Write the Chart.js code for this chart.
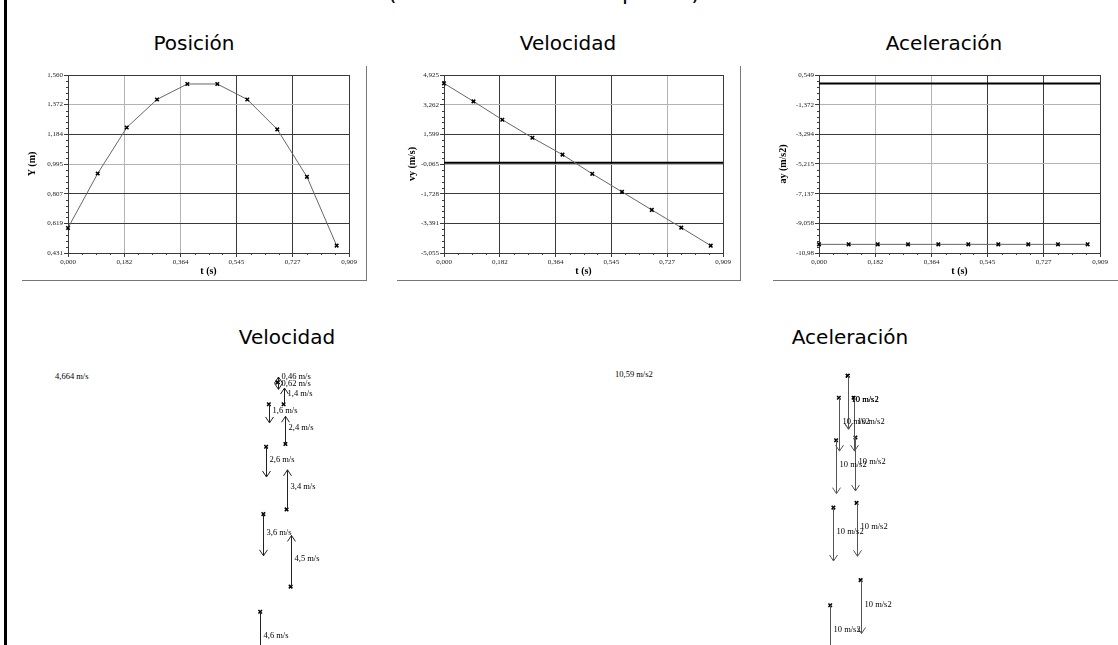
<!DOCTYPE html>
<html lang="es">
<head>
<meta charset="utf-8">
<title>Tiro vertical</title>
<script src="https://cdn.jsdelivr.net/npm/chart.js@4.4.1/dist/chart.umd.min.js"></script>
<style>
  html, body { margin: 0; padding: 0; background: #fff; width: 1118px; height: 645px; overflow: hidden; }
  body { position: relative; font-family: "DejaVu Sans", Verdana, sans-serif; color: #000; }
  .bar { position: absolute; left: 4px; top: 0; width: 3px; height: 645px; background: #000; }
  .head { position: absolute; top: -18px; font-size: 22px; line-height: 22px; white-space: nowrap; }
  .title { position: absolute; width: 300px; text-align: center; font-size: 20px; line-height: 20px; }
  .frame { position: absolute; border-right: 1px solid #777; border-bottom: 1px solid #777; }
  canvas { position: absolute; }
  .note { position: absolute; font: 8.5px "Liberation Serif", serif; line-height: 10px; white-space: nowrap; }
</style>
</head>
<body>
<div class="bar"></div>
<div class="head" style="right:730px;">Tiro vertical&nbsp;</div>
<div class="head" style="left:388px;">(lanzamiento de una pelota)</div>

<div class="title" style="left:44px; top:33px;">Posición</div>
<div class="title" style="left:418px; top:33px;">Velocidad</div>
<div class="title" style="left:794px; top:33px;">Aceleración</div>

<div class="frame" style="left:22px; top:66px; width:344px; height:214px;"></div>
<div class="frame" style="left:397px; top:66px; width:343px; height:214px;"></div>
<div class="frame" style="left:773px; top:66px; width:346px; height:214px;"></div>

<canvas id="posChart" width="345" height="220" style="left:22px; top:60px;"></canvas>
<canvas id="velChart" width="344" height="220" style="left:397px; top:60px;"></canvas>
<canvas id="acelChart" width="345" height="220" style="left:773px; top:60px;"></canvas>

<div class="title" style="left:137px; top:327px;">Velocidad</div>
<div class="title" style="left:700px; top:327px;">Aceleración</div>
<div class="note" style="left:55px; top:371px;">4,664 m/s</div>
<div class="note" style="left:615px; top:369px;">10,59 m/s2</div>

<canvas id="velVectores" width="540" height="320" style="left:0px; top:345px;"></canvas>
<canvas id="acelVectores" width="540" height="320" style="left:570px; top:338px;"></canvas>

<script>
// valores
const tiempo = [0, 0.096, 0.190, 0.288, 0.386, 0.483, 0.580, 0.677, 0.773, 0.869];
const posicionY = [0.590, 0.935, 1.227, 1.405, 1.503, 1.503, 1.405, 1.215, 0.914, 0.478];
const velocidadY = [4.457, 3.446, 2.416, 1.405, 0.46, -0.617, -1.628, -2.639, -3.632, -4.643];
const aceleracionY = [-10.42, -10.42, -10.42, -10.42, -10.42, -10.42, -10.42, -10.42, -10.42, -10.42];
// posición horizontal de la pelota en el diagrama de vectores (m)
const posicionX = [0.134, 0.116, 0.111, 0.103, 0.077, 0.077, 0.038, 0.026, 0.014, 0.000];

const tTicks = [0, 0.182, 0.364, 0.545, 0.727, 0.909];
const tLabels = ['0,000', '0,182', '0,364', '0,545', '0,727', '0,909'];
const posTicks = [0.431, 0.619, 0.807, 0.995, 1.184, 1.372, 1.560];
const posLabels = ['0,431', '0,619', '0,807', '0,995', '1,184', '1,372', '1,560'];
const velTicks = [-5.055, -3.391, -1.728, -0.065, 1.599, 3.262, 4.925];
const velLabels = ['-5,055', '-3,391', '-1,728', '-0,065', '1,599', '3,262', '4,925'];
const acelTicks = [-10.98, -9.058, -7.137, -5.215, -3.294, -1.372, 0.549];
const acelLabels = ['-10,98', '-9,058', '-7,137', '-5,215', '-3,294', '-1,372', '0,549'];

const DARK = '#3a3a3a';
const LIGHT = '#b4b4b4';

const minorTicks = {
    id: 'minorTicks',
    afterDraw(chart, args, opts) {
        const ctx = chart.ctx;
        const xs = chart.scales.x;
        const ys = chart.scales.y;
        ctx.save();
        ctx.strokeStyle = DARK;
        ctx.lineWidth = 1;
        ctx.beginPath();
        for (let i = 0; i < ys.ticks.length - 1; i++) {
            const a = ys.ticks[i].value;
            const b = ys.ticks[i + 1].value;
            for (let k = 1; k < opts.y; k++) {
                const py = Math.round(ys.getPixelForValue(a + (b - a) * k / opts.y)) + 0.5;
                ctx.moveTo(chart.chartArea.left - 2, py);
                ctx.lineTo(chart.chartArea.left, py);
            }
        }
        for (let i = 0; i < xs.ticks.length - 1; i++) {
            const a = xs.ticks[i].value;
            const b = xs.ticks[i + 1].value;
            for (let k = 1; k < opts.x; k++) {
                const px = Math.round(xs.getPixelForValue(a + (b - a) * k / opts.x)) + 0.5;
                ctx.moveTo(px, chart.chartArea.bottom);
                ctx.lineTo(px, chart.chartArea.bottom + 2);
            }
        }
        ctx.stroke();
        ctx.restore();
    }
};

const zeroLine = {
    id: 'zeroLine',
    beforeDatasetsDraw(chart, args, opts) {
        if (!opts.show) {
            return;
        }
        const ctx = chart.ctx;
        const py = chart.scales.y.getPixelForValue(0);
        ctx.save();
        ctx.strokeStyle = '#000';
        ctx.lineWidth = 2;
        ctx.beginPath();
        ctx.moveTo(chart.chartArea.left, py);
        ctx.lineTo(chart.chartArea.right, py);
        ctx.stroke();
        ctx.restore();
    }
};

function timeChart(id, values, yTicks, yLabels, yTitle, lightX, titlePad, showZero) {
    const canvas = document.getElementById(id);
    return new Chart(canvas.getContext('2d'), {
        type: 'scatter',
        data: {
            datasets: [{
                data: tiempo.map((t, i) => ({ x: t, y: values[i] })),
                showLine: true,
                borderColor: '#666',
                borderWidth: 1,
                pointStyle: 'crossRot',
                pointRadius: 2.5,
                pointBorderWidth: 1.5,
                pointBorderColor: '#000',
                clip: false,
            }],
        },
        options: {
            responsive: false,
            animation: false,
            devicePixelRatio: 1,
            layout: { padding: { top: 15, right: 18, left: 0, bottom: 0 } },
            plugins: {
                legend: { display: false },
                tooltip: { enabled: false },
                minorTicks: { x: 4, y: 5 },
                zeroLine: { show: showZero },
            },
            scales: {
                x: {
                    type: 'linear',
                    min: tTicks[0],
                    max: tTicks[tTicks.length - 1],
                    afterBuildTicks: (scale) => { scale.ticks = tTicks.map((v) => ({ value: v })); },
                    afterFit: (scale) => { scale.height = 27; },
                    ticks: {
                        callback: (value, index) => tLabels[index],
                        font: { family: 'Liberation Serif', size: 7 },
                        color: '#222',
                        padding: 1,
                        maxRotation: 0,
                    },
                    grid: {
                        color: (ctx) => (lightX.includes(ctx.index) ? LIGHT : DARK),
                        tickColor: DARK,
                        tickLength: 4,
                    },
                    border: { color: DARK },
                    title: {
                        display: true,
                        text: 't (s)',
                        font: { family: 'Liberation Serif', size: 10, weight: 'bold' },
                        color: '#000',
                        padding: { top: 0, bottom: 3 },
                    },
                },
                y: {
                    type: 'linear',
                    min: yTicks[0],
                    max: yTicks[yTicks.length - 1],
                    afterBuildTicks: (scale) => { scale.ticks = yTicks.map((v) => ({ value: v })); },
                    afterFit: (scale) => { scale.width = canvas.width === 344 ? 47 : 46; },
                    ticks: {
                        callback: (value, index) => yLabels[index],
                        font: { family: 'Liberation Serif', size: 7 },
                        color: '#222',
                        padding: 1,
                    },
                    grid: {
                        color: (ctx) => (ctx.index === 3 || ctx.index === 5 ? LIGHT : DARK),
                        tickColor: DARK,
                        tickLength: 4,
                    },
                    border: { color: DARK },
                    title: {
                        display: true,
                        text: yTitle,
                        font: { family: 'Liberation Serif', size: 10, weight: 'bold' },
                        color: '#000',
                        padding: { top: titlePad, bottom: 0 },
                    },
                },
            },
        },
        plugins: [minorTicks, zeroLine],
    });
}

const arrows = {
    id: 'arrows',
    afterDatasetsDraw(chart, args, opts) {
        const ctx = chart.ctx;
        const xs = chart.scales.x;
        const ys = chart.scales.y;
        ctx.save();
        ctx.strokeStyle = opts.color;
        ctx.fillStyle = '#000';
        ctx.lineWidth = 1;
        ctx.font = '8.5px "Liberation Serif", serif';
        ctx.textBaseline = 'middle';
        opts.values.forEach((v, i) => {
            const px = Math.round(xs.getPixelForValue(posicionX[i])) + 0.5;
            const y0 = ys.getPixelForValue(posicionY[i]);
            const y1 = ys.getPixelForValue(posicionY[i] + v * opts.factor);
            const dir = y1 > y0 ? 1 : -1;
            ctx.beginPath();
            ctx.moveTo(px, y0);
            ctx.lineTo(px, y1);
            ctx.moveTo(px - 4, y1 - dir * 6);
            ctx.lineTo(px, y1);
            ctx.lineTo(px + 4, y1 - dir * 6);
            ctx.stroke();
            const label = Math.abs(v).toPrecision(2).replace('.', ',') + ' ' + opts.unit;
            ctx.fillText(label, px + 3, (y0 + y1) / 2 - 2.5);
        });
        ctx.restore();
    }
};

function vectorChart(id, values, factor, unit, color, yMin, yMax) {
    return new Chart(document.getElementById(id).getContext('2d'), {
        type: 'scatter',
        data: {
            datasets: [{
                data: posicionX.map((x, i) => ({ x: x, y: posicionY[i] })),
                pointStyle: 'crossRot',
                pointRadius: 2.5,
                pointBorderWidth: 1.5,
                pointBorderColor: '#000',
                clip: false,
            }],
        },
        options: {
            responsive: false,
            animation: false,
            devicePixelRatio: 1,
            plugins: {
                legend: { display: false },
                tooltip: { enabled: false },
                arrows: { values: values, factor: factor, unit: unit, color: color },
            },
            scales: {
                x: { type: 'linear', display: false, min: -1.1217, max: 1.2079 },
                y: { type: 'linear', display: false, min: yMin, max: yMax },
            },
        },
        plugins: [arrows],
    });
}

timeChart('posChart', posicionY, posTicks, posLabels, 'Y (m)', [1, 2], 4, false);
timeChart('velChart', velocidadY, velTicks, velLabels, 'vy (m/s)', [4], 9, true);
timeChart('acelChart', aceleracionY, acelTicks, acelLabels, 'ay (m/s2)', [1, 2], 4, true);

vectorChart('velVectores', velocidadY, 0.0513, 'm/s', '#222', 0.2644, 1.6449);
vectorChart('acelVectores', aceleracionY, 0.0229, 'm/s2', '#555', 0.2666, 1.6471);
</script>
</body>
</html>
